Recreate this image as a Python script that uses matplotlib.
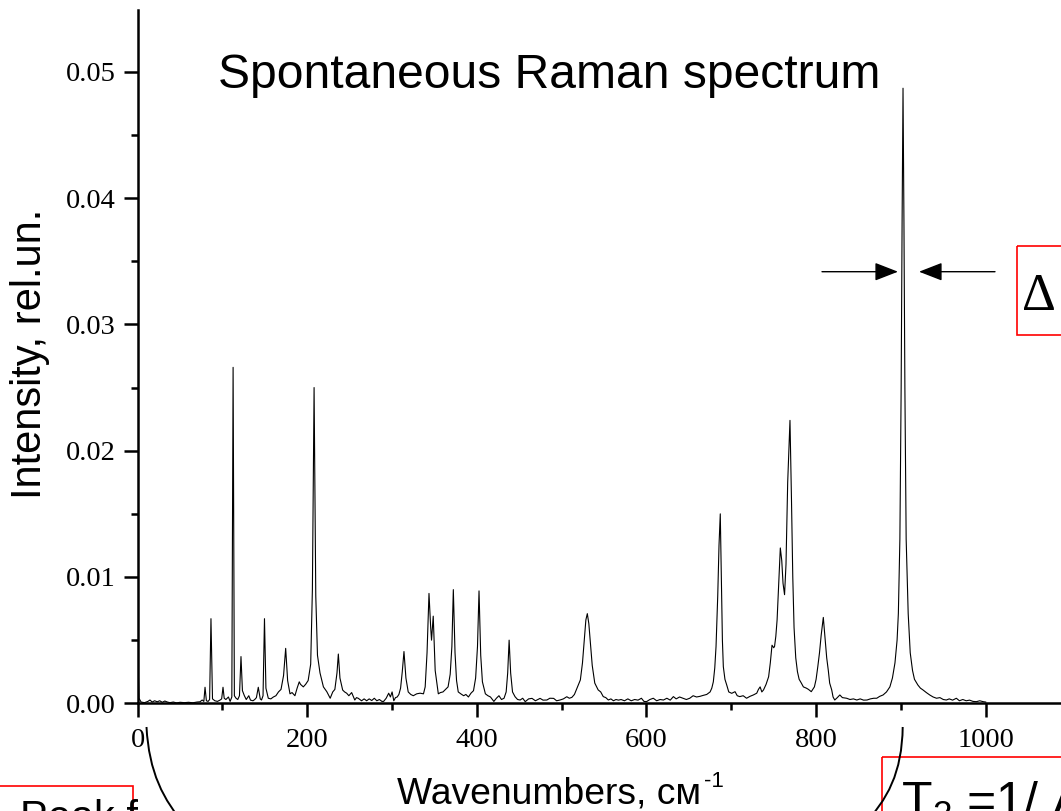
import matplotlib

matplotlib.use("Agg")
import matplotlib.pyplot as plt
from matplotlib import patches
from matplotlib.path import Path
import numpy as np

# spectrum: wavenumber (cm^-1) and intensity (x 1e-3 rel.un.)
WAVENUMBER = [
    0, 1.5, 4, 8, 12, 14.5, 17, 20, 23, 26, 29, 32, 35, 38, 42, 46, 50, 55, 60, 65,
    70, 73.5, 76, 78, 79.4, 81, 83, 84.8, 86.4, 88.2, 91, 94, 97, 99, 100.6, 102, 104,
    107, 109, 111, 112.5, 114, 116, 118, 120, 121.8, 123.5, 125.8, 128, 131, 133, 136,
    138, 140, 142.2, 144.5, 146, 147.8, 149.5, 151.2, 154, 157, 160, 163, 166, 169,
    172, 174.5, 176.8, 179.6, 182, 185.4, 188, 190.5, 192, 195.3, 198, 201, 204, 206,
    208, 210, 212, 215, 219, 223, 227, 230, 232.5, 235, 236.6, 238.5, 241.7, 244,
    246.4, 249, 252.3, 256, 258, 260, 264, 267, 270, 273, 276, 279, 282, 285, 288,
    290, 293, 296, 298, 300, 302, 304, 306, 308, 310, 312, 314, 316.3, 319, 322, 325,
    329, 333, 337, 339, 341.2, 343.5, 345.5, 346.5, 348.5, 350.8, 354.5, 357, 360,
    363, 366, 368.5, 370.5, 372.2, 374.2, 376, 378, 381, 384.4, 387, 390, 393, 396,
    398.5, 400.7, 402.5, 404.5, 406.5, 410, 413, 416, 420, 423, 426, 429, 432, 434.5,
    436.3, 438, 439.8, 442, 445, 448, 451, 454, 457, 461, 465, 469, 474.5, 478, 482.5,
    486, 490.5, 494, 498, 502, 506, 509, 512, 515, 518, 522, 524.5, 526.5, 528.5,
    530.2, 532, 534, 536, 539, 543, 546, 549, 552, 555, 558, 561, 564, 567, 570, 574,
    578, 582, 586, 590, 594, 597, 600, 604, 608, 612, 616, 620, 624, 628, 631.7, 635,
    639, 643.6, 647, 651, 655, 659, 663, 667, 671, 675, 677, 678.8, 680.5, 682, 684,
    685.5, 687, 688.5, 689.5, 690.6, 692.5, 694.6, 697, 700.5, 704.4, 707, 710, 714,
    718, 722, 726, 730, 732, 734, 736, 738, 741, 744, 746, 748, 750, 751, 752.5, 754,
    756, 757.8, 759.5, 761, 762.8, 764.5, 766.5, 769.2, 771, 772.5, 774, 776, 778,
    780, 782.6, 785, 788.5, 791, 794.3, 796, 798, 800, 802, 804, 806, 808.5, 810.5,
    812.5, 814.4, 816, 818.4, 820, 822, 825, 828, 831, 836, 840, 844, 848, 852, 856,
    860, 864, 868, 871.5, 875, 879, 883, 887, 890, 893, 895.5, 897, 898.8, 900.3,
    901.4, 902.5, 903.6, 904.7, 906.2, 908.6, 911, 913.7, 916, 920, 923, 926, 930,
    934, 938, 942, 946, 950, 953.6, 957, 961, 965.4, 969, 973, 977, 981, 985, 989,
    993, 997, 1000,
]
INTENSITY_E3 = [
    4.5, 0.4, 0.1, 0.05, 0.15, 0.26, 0.1, 0.2, 0.12, 0.2, 0.08, 0.18, 0.1, 0.05, 0.1,
    0.03, 0.08, 0.05, 0.08, 0.04,
    0.1, 0.12, 0.26, 0.15, 1.27, 0.2, 0.15, 0.3, 6.7, 0.35, 0.2, 0.15, 0.25, 0.35,
    1.27, 0.4, 0.3,
    0.5, 0.15, 0.5, 26.6, 0.6, 0.4, 0.3, 0.6, 3.7, 1.0, 0.6, 0.3, 0.6, 0.25, 0.2,
    0.3, 0.45, 1.27, 0.35, 0.26, 0.6, 6.7, 1.2, 0.4, 0.35, 0.5, 0.6, 0.9, 1.1,
    2.2, 4.35, 1.8, 0.75, 0.85, 0.6, 1.2, 1.7, 1.5, 1.3, 1.5, 1.8, 3.1, 9.0,
    25.0, 8.5, 3.8, 2.4, 1.3, 0.92, 0.4, 0.9, 1.1, 2.4, 3.9, 2.0, 1.05, 0.9,
    0.8, 0.6, 0.85, 0.26, 0.45, 0.4, 0.2, 0.35, 0.2, 0.35, 0.22, 0.4, 0.2, 0.3, 0.15,
    0.15, 0.4, 0.8, 0.5, 0.9, 0.2, 0.45, 0.5, 0.7, 1.2, 2.5, 4.1, 2.0, 0.9, 0.7, 0.6,
    0.75, 0.8, 0.75, 1.3, 4.0, 8.7, 6.0, 5.0, 6.9, 2.6, 0.75, 0.85, 0.9,
    1.1, 1.3, 2.3, 4.5, 9.0, 4.0, 1.8, 0.9, 0.75, 0.6, 0.7, 0.5, 0.8, 1.0,
    2.0, 4.5, 8.9, 3.8, 1.7, 0.75, 0.6, 0.5, 0.15, 0.4, 0.6, 0.3, 0.4, 0.9,
    2.4, 5.0, 2.4, 0.9, 0.52, 0.3, 0.26, 0.4, 0.13, 0.35, 0.39, 0.2, 0.39, 0.25, 0.26,
    0.4, 0.39, 0.2, 0.26, 0.35, 0.52, 0.4, 0.47, 0.7, 1.2, 1.85, 3.2, 4.9, 6.6,
    7.1, 6.3, 4.6, 3.0, 1.6, 1.06, 0.9, 0.53, 0.45, 0.26, 0.35, 0.2, 0.3, 0.25, 0.3, 0.2,
    0.35, 0.2, 0.3, 0.25, 0.4, 0.15, 0.13, 0.3, 0.4, 0.2, 0.3, 0.26, 0.4, 0.25, 0.53, 0.35,
    0.5, 0.39, 0.3, 0.4, 0.6, 0.5, 0.55, 0.63, 0.7, 0.9, 1.2, 1.7, 2.8, 4.5, 8.5,
    12.5, 15.0, 9.0, 5.0, 2.9, 1.9, 1.45, 0.9, 0.79, 0.92, 0.6, 0.53, 0.6,
    0.4, 0.55, 0.66, 0.8, 1.1, 1.3, 0.9, 1.06, 1.5, 2.1, 3.2, 4.6, 4.4, 4.5, 5.3, 6.6,
    9.5, 12.3, 11.3, 9.5, 8.6, 11.0, 17.5, 22.4, 16.0, 10.0, 6.0, 3.6, 2.5,
    1.9, 1.6, 1.3, 1.2, 1.1, 0.92, 1.1, 1.3, 1.9, 2.9, 4.0, 5.4, 6.8, 5.2,
    3.6, 2.6, 1.6, 1.06, 0.5, 0.26, 0.45, 0.66, 0.45, 0.4, 0.3, 0.35, 0.26, 0.35, 0.25,
    0.26, 0.35, 0.4, 0.4, 0.55, 0.66, 0.9, 1.3, 2.0, 3.2, 5.0, 7.1, 13.0, 25.0,
    38.0, 48.7, 38.0, 25.0, 13.0, 7.1, 4.0, 2.6, 1.9, 1.45, 1.2, 1.06, 0.85,
    0.66, 0.5, 0.4, 0.45, 0.3, 0.26, 0.35, 0.25, 0.4, 0.2, 0.3, 0.2, 0.25, 0.15, 0.13,
    0.2, 0.13, 0.1,
]

X_MAJOR = [0, 200, 400, 600, 800, 1000]
Y_MAJOR = [0.00, 0.01, 0.02, 0.03, 0.04, 0.05]

W, H = 1061, 811
SERIF = "Liberation Serif"
SANS = "Liberation Sans"


def px_axes(fig):
    # overlay axes in pixel units (origin top-left) for annotations
    ov = fig.add_axes([0, 0, 1, 1], zorder=5)
    ov.set_xlim(0, W)
    ov.set_ylim(H, 0)
    ov.set_axis_off()
    ov.patch.set_alpha(0)
    return ov


def bezier(ov, pts, lw=1.4):
    codes = [Path.MOVETO, Path.CURVE4, Path.CURVE4, Path.CURVE4]
    ov.add_patch(patches.PathPatch(Path(pts, codes), fc="none", ec="black", lw=lw, clip_on=False))


def red_box(ov, x0, y0, x1, y1):
    ov.add_patch(patches.Rectangle((x0, y0), x1 - x0, y1 - y0, fc="none", ec="#ff0000",
                                   lw=1.2, clip_on=False))


def main():
    plt.rcParams.update({
        "mathtext.fontset": "custom",
        "mathtext.rm": SANS,
        "mathtext.it": SANS + ":italic",
    })
    fig = plt.figure(figsize=(W / 100, H / 100), dpi=100)

    x0_px, y0_px = 137.7, 703.3
    sx = 0.848  # px per cm^-1
    xmax = 1100
    ytop_px = 10
    ymax = (y0_px - ytop_px) / 12630.0
    ax = fig.add_axes([x0_px / W, (H - y0_px) / H, xmax * sx / W, (y0_px - ytop_px) / H])

    wn = np.array(WAVENUMBER)
    inten = np.array(INTENSITY_E3) * 1e-3
    ax.plot(wn, inten, color="black", lw=0.8)

    ax.set_xlim(0, xmax)
    ax.set_ylim(0, ymax)
    for s in ("top", "right"):
        ax.spines[s].set_visible(False)
    for s in ("left", "bottom"):
        ax.spines[s].set_linewidth(1.8)
    ax.set_xticks(X_MAJOR)
    ax.set_xticks(np.arange(100, 1100, 200), minor=True)
    ax.set_yticks(Y_MAJOR)
    ax.set_yticks(np.arange(0.005, 0.055, 0.01), minor=True)
    ax.set_xticklabels([f"{v:g}" for v in X_MAJOR])
    ax.set_yticklabels([f"{v:.2f}" for v in Y_MAJOR])
    ax.tick_params(which="major", direction="out", length=10, width=1.8, pad=6)
    ax.tick_params(which="minor", direction="out", length=5, width=1.8)
    for lab in ax.get_xticklabels() + ax.get_yticklabels():
        lab.set_fontfamily(SERIF)
        lab.set_fontsize(20.5)
    ax.tick_params(axis="x", pad=8)

    ov = px_axes(fig)
    ov.text(218, 88, "Spontaneous Raman spectrum", fontfamily=SANS, fontsize=34.6,
            ha="left", va="baseline")
    ov.text(397, 803, "Wavenumbers, cм", fontfamily=SANS, fontsize=26.8,
            ha="left", va="baseline")
    ov.text(704, 787, "-1", fontfamily=SANS, fontsize=16, ha="left", va="baseline")
    ov.text(30, 354, "Intensity, rel.un.", fontfamily=SANS, fontsize=30, rotation=90,
            ha="center", va="center")

    # linewidth arrows around the 900 cm^-1 line
    arrow = dict(arrowstyle="-|>,head_length=0.9,head_width=0.35", color="black",
                 lw=1.0, shrinkA=0, shrinkB=0, mutation_scale=16)
    ov.annotate("", xy=(898, 271.7), xytext=(822, 271.7), arrowprops=arrow)
    ov.annotate("", xy=(919, 271.7), xytext=(995, 271.7), arrowprops=arrow)

    red_box(ov, 1016.7, 246, 1100, 335)
    ov.text(1022, 310, "\u0394", fontfamily=SERIF, fontsize=38, ha="left", va="baseline")

    red_box(ov, 881.7, 756.7, 1100, 900)
    ov.text(901, 818, "T$_2$ =1/ \u0394", fontfamily=SANS, fontsize=36, ha="left",
            va="baseline")

    red_box(ov, -20, 786, 133, 900)
    ov.text(20, 830, "Peak f", fontfamily=SANS, fontsize=30, ha="left", va="baseline")

    bezier(ov, [(146.5, 727), (149, 772), (163, 800), (186, 826)])
    bezier(ov, [(902.7, 727), (902, 772), (888, 800), (862, 826)])

    fig.savefig("out.png", dpi=100)
    plt.close(fig)


if __name__ == "__main__":
    main()
